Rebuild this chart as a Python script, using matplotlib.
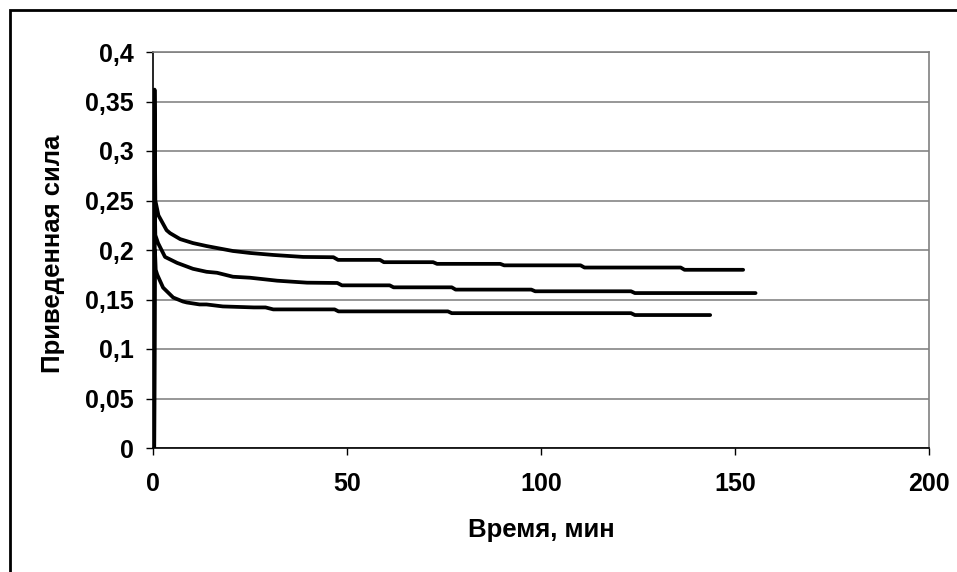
import matplotlib
matplotlib.use('Agg')
import matplotlib.pyplot as plt
from matplotlib.patches import Rectangle

plt.rcParams['font.family'] = ['Liberation Sans', 'DejaVu Sans']
plt.rcParams['font.weight'] = 'bold'

# Время, мин / приведенная сила (три опыта)
t_top = [0.3, 0.4, 0.6, 1.4, 3.5, 4.4, 7.0, 10.3, 13.8, 16.5, 20.6, 25, 31, 38.7, 46.5,
         47.7, 58.5, 59.5, 72.2, 73.2, 89.5, 90.5, 110.2, 111.2, 136, 137, 152.1]
f_top = [0.0, 0.362, 0.25, 0.235, 0.220, 0.217, 0.211, 0.207, 0.204, 0.202, 0.199, 0.197, 0.195, 0.193, 0.1927,
         0.190, 0.190, 0.1877, 0.1877, 0.186, 0.186, 0.1845, 0.1845, 0.1823, 0.1823, 0.180, 0.180]

t_mid = [0.3, 0.45, 0.6, 1.3, 3.1, 6.2, 10.3, 13.8, 16.5, 20.6, 25, 32, 39.7, 47.5,
         48.7, 61, 62, 77, 78, 97.5, 98.5, 123.2, 124.2, 155.3]
f_mid = [0.0, 0.25, 0.215, 0.207, 0.193, 0.187, 0.181, 0.178, 0.177, 0.173, 0.172, 0.169, 0.167, 0.1667,
         0.1643, 0.1643, 0.1623, 0.1623, 0.160, 0.160, 0.1583, 0.1583, 0.1565, 0.1565]

t_bot = [0.3, 0.5, 0.7, 1.1, 2.6, 5.2, 7.7, 8.7, 12, 13.8, 18, 26, 29, 31, 46.8,
         47.8, 76, 77, 123.2, 124.2, 143.6]
f_bot = [0.0, 0.20, 0.18, 0.175, 0.162, 0.152, 0.148, 0.147, 0.145, 0.145, 0.143, 0.142, 0.142, 0.140, 0.140,
         0.138, 0.138, 0.1362, 0.1362, 0.1343, 0.1343]

x_ticks = [0, 50, 100, 150, 200]
y_ticks = [0, 0.05, 0.1, 0.15, 0.2, 0.25, 0.3, 0.35, 0.4]
y_labels = ['0', '0,05', '0,1', '0,15', '0,2', '0,25', '0,3', '0,35', '0,4']

fig = plt.figure(figsize=(9.57, 5.72), dpi=100)
ax = fig.add_axes([153 / 957, (572 - 448) / 572, 776 / 957, 396 / 572])

for t, f in [(t_top, f_top), (t_mid, f_mid), (t_bot, f_bot)]:
    ax.plot(t, f, color='black', lw=2.7, solid_joinstyle='round', solid_capstyle='round', zorder=3)

ax.set_xlim(0, 200)
ax.set_ylim(0, 0.4)
ax.set_xticks(x_ticks)
ax.set_xticklabels([str(v) for v in x_ticks])
ax.set_yticks(y_ticks)
ax.set_yticklabels(y_labels)
ax.tick_params(axis='both', direction='out', length=5, width=1, labelsize=18, colors='black')
ax.tick_params(axis='y', pad=9)
ax.tick_params(axis='x', pad=12)

ax.yaxis.grid(True, color='#7a7a7a', lw=1.1)
ax.set_axisbelow(True)
for s in ['top', 'right']:
    ax.spines[s].set_color('#808080')
    ax.spines[s].set_linewidth(1.2)
for s in ['left', 'bottom']:
    ax.spines[s].set_color('black')
    ax.spines[s].set_linewidth(1.2)

fig.text(541 / 957, 1 - 530 / 572, 'Время, мин', ha='center', va='center', fontsize=18.5, fontweight='bold')
fig.text(53 / 957, 1 - 254 / 572, 'Приведенная сила', ha='center', va='center', rotation=90,
         fontsize=18.5, fontweight='bold')

# рамка вокруг диаграммы (обрезана справа и снизу)
fig.patches.append(Rectangle((10 / 957, -0.1), 1.2, 0.1 + 562 / 572, transform=fig.transFigure,
                             fill=False, edgecolor='black', lw=2))

fig.savefig('out.png', dpi=100)
